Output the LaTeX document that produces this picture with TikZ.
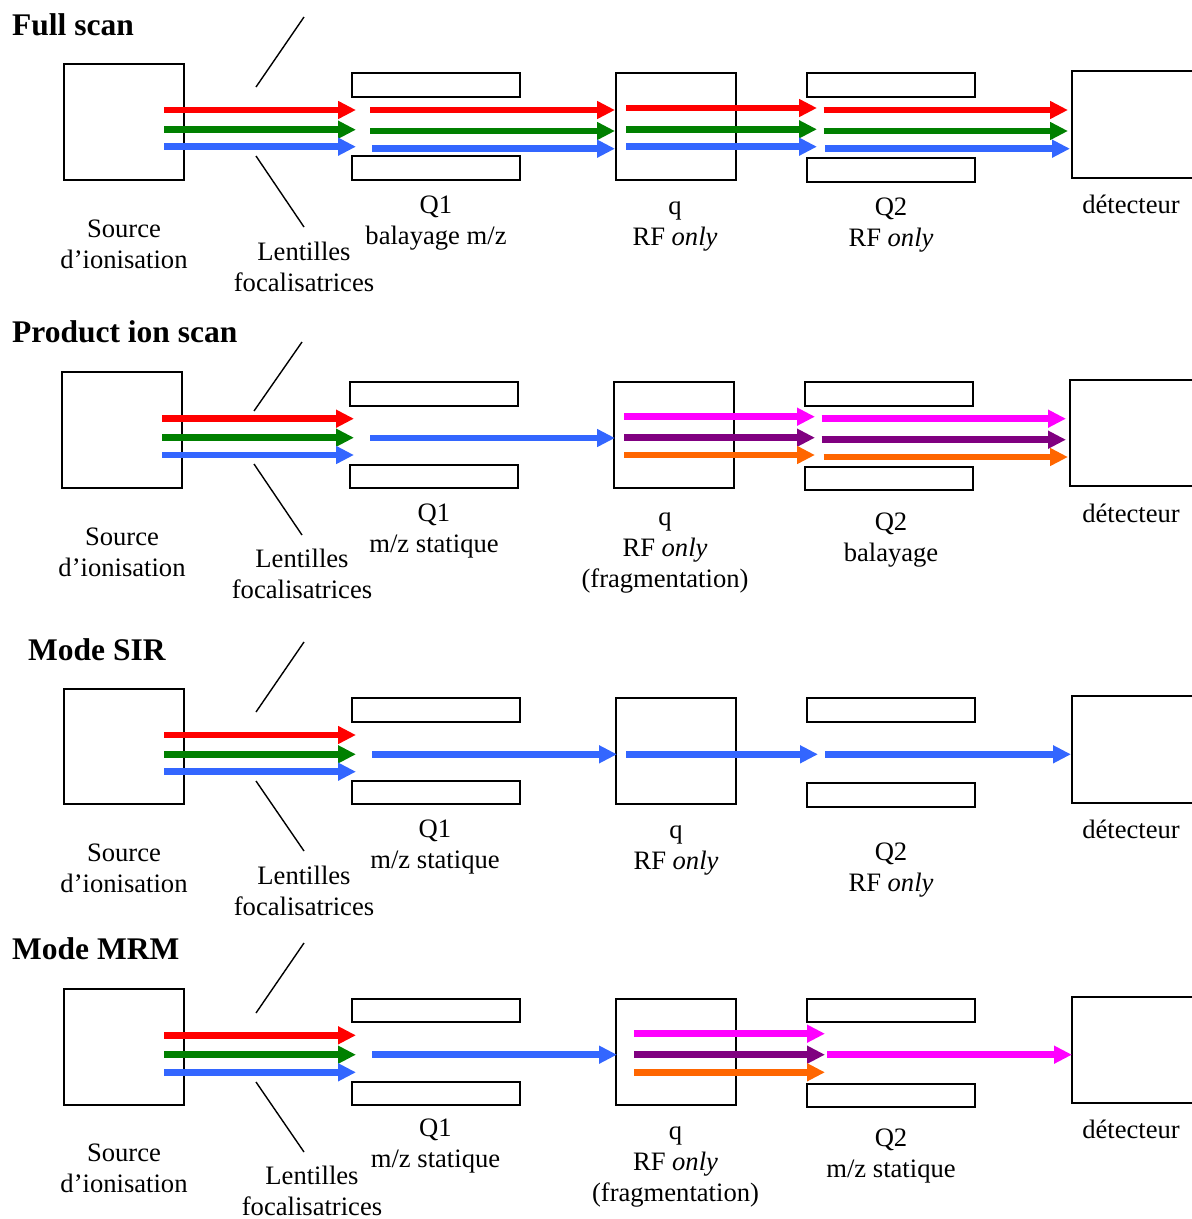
\documentclass[tikz,border=0pt]{standalone}
\usepackage{fontspec}
\setmainfont{Liberation Serif}
\usetikzlibrary{arrows.meta}
\definecolor{bred}{HTML}{FF0000}
\definecolor{bgreen}{HTML}{008000}
\definecolor{bblue}{HTML}{3366FF}
\definecolor{bmag}{HTML}{FF00FF}
\definecolor{bpurp}{HTML}{800080}
\definecolor{borange}{HTML}{FF6600}
\newcommand\beam[4]{\draw[beam,#1] (#2,#4) -- (#3,#4);}
\newcommand\onel[4]{\node[lbl] (#1) at (#2,#3) {#4};}
\newcommand\twol[5]{\node[lbl] (#1a) at (#2,#3) {#4};\node[lbl] (#1b) at (#2,#3+31) {#5};}
\newcommand\threel[6]{\node[lbl] (#1a) at (#2,#3) {#4};\node[lbl] (#1b) at (#2,#3+31) {#5};\node[lbl] (#1c) at (#2,#3+62) {#6};}
\begin{document}
\begin{tikzpicture}[x=1pt,y=-1pt,
  box/.style={draw=black,line width=1.7pt},
  beam/.style={line width=6.5pt,-{Triangle[length=18pt,width=17pt]}},
  lens/.style={draw=black,line width=1.4pt},
  lbl/.style={font=\fontsize{26.6}{31}\selectfont,anchor=base,inner sep=0pt},
  ttl/.style={font=\fontsize{31.5}{36}\selectfont\bfseries,anchor=base west,inner sep=0pt}]
\useasboundingbox (0,0) rectangle (1192,1219);
\clip (0,0) rectangle (1192,1219);

% ---------- Panel 1 : Full scan ----------
\node[ttl] (t1) at (12,35) {Full scan};
\draw[box] (64,64) rectangle (184,180);
\draw[box] (352,73) rectangle (520,97);
\draw[box] (352,156) rectangle (520,180);
\draw[box] (616,73) rectangle (736,180);
\draw[box] (807,73) rectangle (975,97);
\draw[box] (807,158) rectangle (975,182);
\draw[box] (1072,71) rectangle (1215,178);
\draw[lens] (304,17) -- (256,87);
\draw[lens] (256,156) -- (304,227);
\beam{bred}{164}{356}{110}
\beam{bgreen}{164}{356}{129.7}
\beam{bblue}{164}{356}{146.7}
\beam{bred}{370}{615}{110}
\beam{bgreen}{370}{615}{131}
\beam{bblue}{372}{615}{148.7}
\beam{bred}{626}{817}{108}
\beam{bgreen}{626}{817}{129.3}
\beam{bblue}{626}{817}{146.7}
\beam{bred}{823.5}{1068}{110}
\beam{bgreen}{823.5}{1068}{131}
\beam{bblue}{825}{1070}{148.7}
\twol{s1}{124}{237}{Source}{d’ionisation}
\twol{l1}{304}{260}{Lentilles}{focalisatrices}
\twol{qa1}{436}{213.5}{Q1}{balayage m/z}
\twol{qb1}{675}{214}{q}{RF \textit{only}}
\twol{qc1}{891}{215.5}{Q2}{RF \textit{only}}
\onel{d1}{1131}{213.5}{détecteur}

% ---------- Panel 2 : Product ion scan ----------
\node[ttl] (t2) at (12,342.3) {Product ion scan};
\draw[box] (62,372) rectangle (182,488);
\draw[box] (350,382) rectangle (518,406);
\draw[box] (350,465) rectangle (518,488);
\draw[box] (614,382) rectangle (734,488);
\draw[box] (805,382) rectangle (973,406);
\draw[box] (805,467) rectangle (973,490);
\draw[box] (1070,380) rectangle (1215,486);
\draw[lens] (302,342) -- (254,411);
\draw[lens] (254,464) -- (302,535);
\beam{bred}{162}{354}{418.7}
\beam{bgreen}{162}{354}{437.7}
\beam{bblue}{162}{354}{455}
\beam{bblue}{370}{615}{438}
\beam{bmag}{624}{815}{416.7}
\beam{bpurp}{624}{815}{437.7}
\beam{borange}{624}{815}{455}
\beam{bmag}{821.5}{1066}{418.7}
\beam{bpurp}{821.5}{1066}{439.7}
\beam{borange}{823.5}{1068}{457}
\twol{s2}{122}{545}{Source}{d’ionisation}
\twol{l2}{302}{567.3}{Lentilles}{focalisatrices}
\twol{qa2}{434}{521.7}{Q1}{m/z statique}
\threel{qb2}{665}{525}{q}{RF \textit{only}}{(fragmentation)}
\twol{qc2}{891}{530.5}{Q2}{balayage}
\onel{d2}{1131}{522.3}{détecteur}

% ---------- Panel 3 : Mode SIR ----------
\node[ttl] (t3) at (28,660) {Mode SIR};
\draw[box] (64,689) rectangle (184,804);
\draw[box] (352,698) rectangle (520,722);
\draw[box] (352,781) rectangle (520,804);
\draw[box] (616,698) rectangle (736,804);
\draw[box] (807,698) rectangle (975,722);
\draw[box] (807,783) rectangle (975,807);
\draw[box] (1072,696) rectangle (1215,803);
\draw[lens] (304,642) -- (256,712);
\draw[lens] (256,781) -- (304,851);
\beam{bred}{164}{356}{735}
\beam{bgreen}{164}{356}{754.3}
\beam{bblue}{164}{356}{771.7}
\beam{bblue}{372}{617}{754.3}
\beam{bblue}{626}{818}{754.3}
\beam{bblue}{825}{1071}{754.3}
\twol{s3}{124}{861}{Source}{d’ionisation}
\twol{l3}{304}{884.5}{Lentilles}{focalisatrices}
\twol{qa3}{435}{837.3}{Q1}{m/z statique}
\twol{qb3}{676}{838.5}{q}{RF \textit{only}}
\twol{qc3}{891}{860.5}{Q2}{RF \textit{only}}
\onel{d3}{1131}{838.3}{détecteur}

% ---------- Panel 4 : Mode MRM ----------
\node[ttl] (t4) at (12,959.7) {Mode MRM};
\draw[box] (64,989) rectangle (184,1105);
\draw[box] (352,999) rectangle (520,1022);
\draw[box] (352,1082) rectangle (520,1105);
\draw[box] (616,999) rectangle (736,1105);
\draw[box] (807,999) rectangle (975,1022);
\draw[box] (807,1084) rectangle (975,1107);
\draw[box] (1072,997) rectangle (1215,1103);
\draw[lens] (304,943) -- (256,1013);
\draw[lens] (256,1082) -- (304,1152);
\beam{bred}{164}{356}{1035.3}
\beam{bgreen}{164}{356}{1054.7}
\beam{bblue}{164}{356}{1072.3}
\beam{bblue}{372}{617}{1054.7}
\beam{bmag}{634}{825}{1033.7}
\beam{bpurp}{634}{825}{1054.7}
\beam{borange}{634}{825}{1072.3}
\beam{bmag}{827}{1072}{1054.7}
\twol{s4}{124}{1161.5}{Source}{d’ionisation}
\twol{l4}{312}{1184.5}{Lentilles}{focalisatrices}
\twol{qa4}{435.5}{1136.5}{Q1}{m/z statique}
\threel{qb4}{675.5}{1139}{q}{RF \textit{only}}{(fragmentation)}
\twol{qc4}{891}{1146}{Q2}{m/z statique}
\onel{d4}{1131}{1138.3}{détecteur}
\end{tikzpicture}
\end{document}
